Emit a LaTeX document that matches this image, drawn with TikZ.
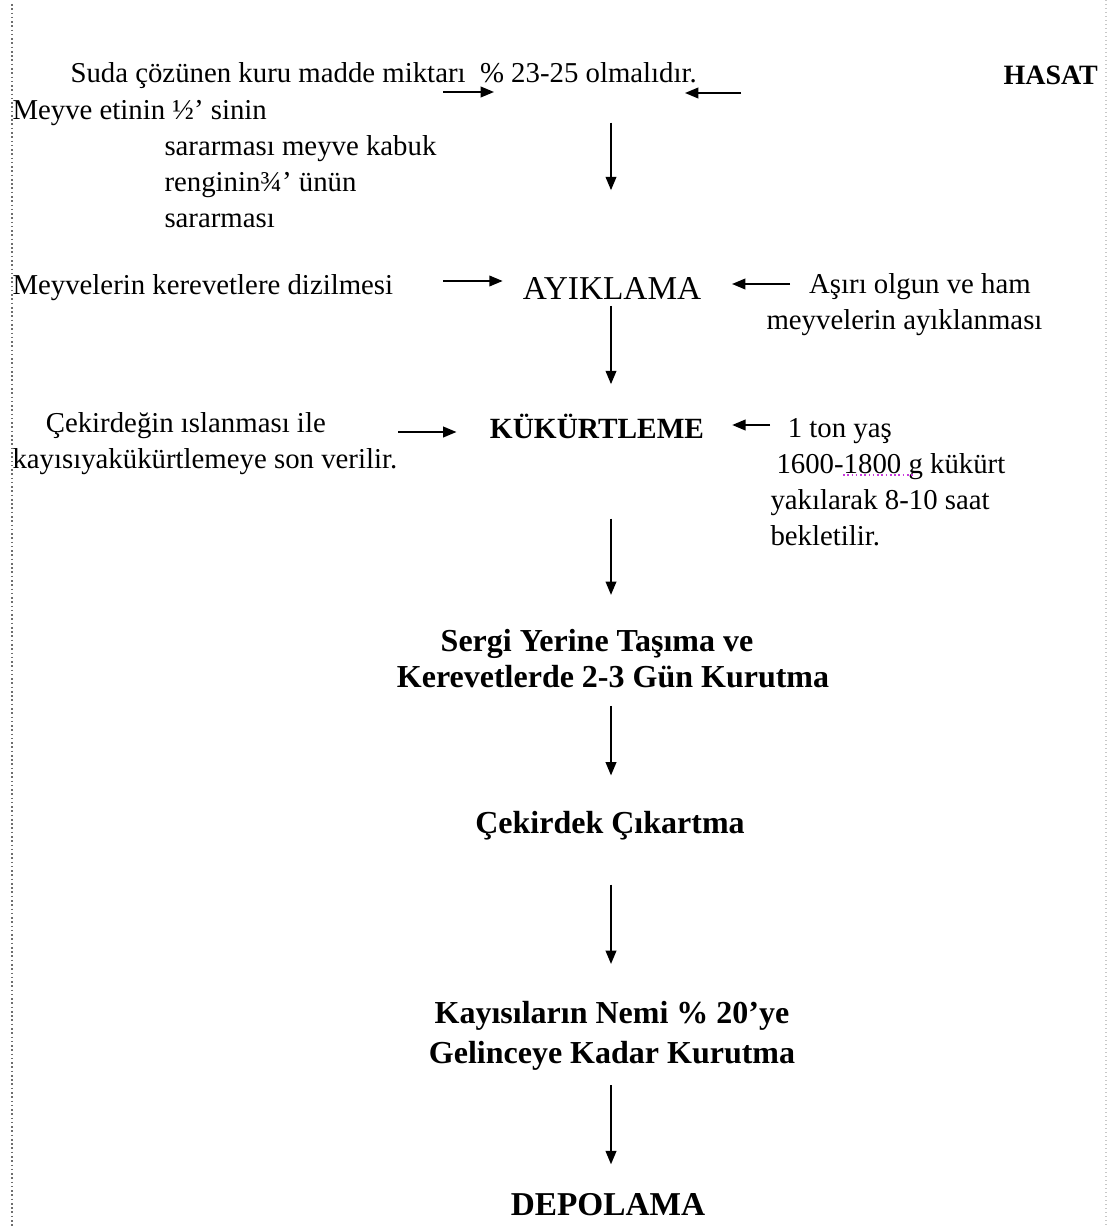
\documentclass[tikz,border=0pt]{standalone}
\usepackage{fontspec}
\setmainfont{Liberation Serif}
\usetikzlibrary{arrows.meta}

\tikzset{every picture/.style={line width=0.75pt}}
\tikzset{
  note/.style={anchor=west, inner sep=0.75pt, align=left, font=\fontsize{21.6}{27}\selectfont},
  stepbig/.style={inner sep=0.75pt, align=center, font=\fontsize{24}{27}\selectfont\bfseries},
  flow/.style={line width=1.3pt, -{Triangle[length=10pt,width=8pt]}},
}

\begin{document}
\begin{tikzpicture}[x=0.75pt,y=0.75pt,yscale=-1,xscale=1]
    \useasboundingbox (0,0) rectangle (1108,1227);

    %Page margins
    \draw [dotted, line width=1.2pt, color={rgb, 255:red, 110; green, 110; blue, 110 }] (12,4) -- (12,1227);
    \draw [dotted, line width=1pt, color={rgb, 255:red, 200; green, 200; blue, 200 }] (1106,0) -- (1106,1227);

    % Text Node
    \node [note] (suda) at (69,76) {Suda çözünen kuru madde miktarı\ \ \% 23-25 olmalıdır.};
    % Text Node
    \node [note, font=\fontsize{21}{27}\selectfont\bfseries] (hasat) at (1002,75) {HASAT};
    % Text Node
    \node [note] (meyve) at (11,164) {Meyve etinin ½’ sinin\\\hspace*{114pt}sararması meyve kabuk\\\hspace*{114pt}renginin¾’ ünün\\\hspace*{114pt}sararması};
    % Text Node
    \node [note] (dizilme) at (11,288) {Meyvelerin kerevetlere dizilmesi};
    % Text Node
    \node [stepbig, font=\fontsize{25}{27}\selectfont] (ayiklama) at (612,288) {AYIKLAMA};
    % Text Node
    \node [note] (asiri) at (765,305) {\hspace*{32pt}Aşırı olgun ve ham\\meyvelerin ayıklanması};
    % Text Node
    \node [note] (islanma) at (11,444) {\hspace*{25pt}Çekirdeğin ıslanması ile\\kayısıyakükürtlemeye son verilir.};
    % Text Node
    \node [stepbig, font=\fontsize{22}{27}\selectfont\bfseries] (kukurt) at (597,426) {KÜKÜRTLEME};
    % Text Node
    \node [note] (tonyas) at (769,482) {\hspace*{13pt}1 ton yaş\\\hspace*{4.5pt}1600-1800 g kükürt\\yakılarak 8-10 saat\\bekletilir.};
    % Text Node
    \node [stepbig] (sergi) at (613,659) {Sergi Yerine Taşıma ve\rule{24pt}{0pt}\\Kerevetlerde 2-3 Gün Kurutma};
    % Text Node
    \node [stepbig] (cekirdek) at (610,826) {Çekirdek Çıkartma};
    % Text Node
    \node [stepbig, font=\fontsize{24}{30}\selectfont\bfseries] (nemi) at (612,1036) {Kayısıların Nemi \% 20’ye\\Gelinceye Kadar Kurutma};
    % Text Node
    \node [stepbig, font=\fontsize{25}{27}\selectfont\bfseries] (depolama) at (608,1205) {DEPOLAMA};

    %Spell mark
    \draw [dotted, line width=1.2pt, color={rgb, 255:red, 200; green, 60; blue, 220 }] (843,475) -- (914,475);

    %Main flow
    \coordinate (spine) at (611,0);
    \draw [flow, shorten <=24pt, shorten >=64pt] (suda.south -| spine) -- (ayiklama.north -| spine);
    \draw [flow, shorten <=4pt, shorten >=21pt] (ayiklama.south -| spine) -- (kukurt.north -| spine);
    \draw [flow, shorten <=59pt, shorten >=25pt] (kukurt.south -| spine) -- (sergi.north -| spine);
    \draw [flow, shorten <=12pt, shorten >=26pt] (sergi.south -| spine) -- (cekirdek.north -| spine);
    \draw [flow, shorten <=32pt, shorten >=27pt] (cekirdek.south -| spine) -- (nemi.north -| spine);
    \draw [flow, shorten <=10pt, shorten >=21pt] (nemi.south -| spine) -- (depolama.north -| spine);

    %Side arrows
    \coordinate (sudaTail) at (443,92);
    \coordinate (sudaTip) at (494,92);
    \coordinate (hasatTail) at (741,93);
    \coordinate (hasatTip) at (685,93);
    \coordinate (dizTail) at (443,281);
    \coordinate (asiriTail) at (790,284);
    \coordinate (islTail) at (398,432);
    \coordinate (tonTail) at (770,425);
    \draw [flow] (sudaTail) -- (sudaTip);
    \draw [flow] (hasatTail) -- (hasatTip);
    \draw [flow, shorten >=14pt] (dizTail) -- (dizTail -| ayiklama.west);
    \draw [flow, shorten >=22pt] (asiriTail) -- (asiriTail -| ayiklama.east);
    \draw [flow, shorten >=24pt] (islTail) -- (islTail -| kukurt.west);
    \draw [flow, shorten >=20pt] (tonTail) -- (tonTail -| kukurt.east);

\end{tikzpicture}
\end{document}
